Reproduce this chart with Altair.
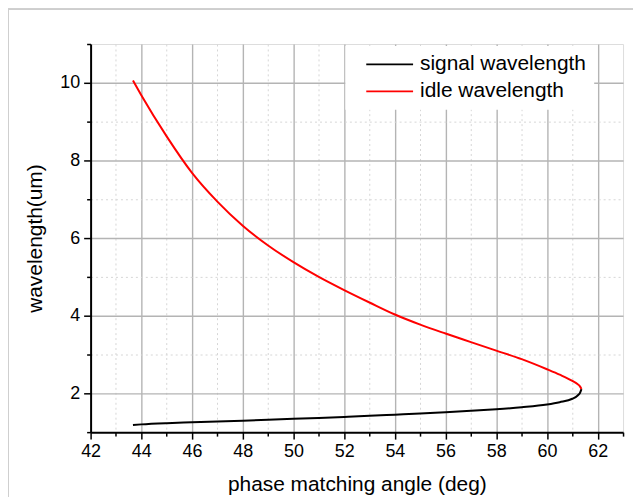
import altair as alt
import pandas as pd

# ---- data ----
idle_angle = [43.67, 44.0, 45.0, 46.0, 47.0, 48.0, 49.0, 50.0, 51.0, 52.0, 53.0,
              54.0, 55.0, 56.0, 57.0, 58.0, 59.0, 60.0, 60.5, 61.0, 61.2, 61.3, 61.36]
idle_wl = [10.06, 9.68, 8.62, 7.68, 6.94, 6.32, 5.81, 5.38, 5.00, 4.66, 4.34,
           4.03, 3.77, 3.54, 3.32, 3.10, 2.88, 2.62, 2.48, 2.32, 2.24, 2.18, 2.11]

signal_angle = [61.36, 61.3, 61.2, 61.0, 60.5, 60.0, 59.0, 58.0, 57.0, 56.0, 55.0, 54.0,
                53.0, 52.0, 51.0, 50.0, 49.0, 48.0, 47.0, 46.0, 45.0, 44.0, 43.67]
signal_wl = [2.11, 2.01, 1.94, 1.86, 1.77, 1.71, 1.64, 1.59, 1.55, 1.515, 1.48, 1.45,
             1.42, 1.393, 1.367, 1.342, 1.318, 1.295, 1.273, 1.252, 1.231, 1.20, 1.185]

series_names = ["signal wavelength", "idle wavelength"]
series_colors = ["#000000", "#ff0000"]

x_ticks = list(range(42, 64))
y_ticks = list(range(1, 12))

rows = []
for a, w in sorted(zip(signal_angle, signal_wl)):
    rows.append({"angle": a, "wl": w, "series": series_names[0]})
for a, w in sorted(zip(idle_angle, idle_wl)):
    rows.append({"angle": a, "wl": w, "series": series_names[1]})
df = pd.DataFrame(rows)

FONT = "Liberation Sans"

def axis_common(values):
    return dict(
        values=values,
        labelFont=FONT, labelFontSize=18, labelColor="#000000",
        titleFont=FONT, titleFontSize=21, titleFontWeight="normal", titleColor="#000000",
        domainColor="#000000", domainWidth=2,
        tickColor="#000000", tickWidth=1.5,
        tickSize={"condition": {"test": "datum.value % 2 == 1", "value": 4}, "value": 7},
        labelOverlap=False, labelFlush=False,
        grid=True,
        gridColor={"condition": {"test": "datum.value % 2 == 1", "value": "#d6d6d6"}, "value": "#b4b4b4"},
        gridDash={"condition": {"test": "datum.value % 2 == 1", "value": [2, 3]}, "value": []},
        gridWidth={"condition": {"test": "datum.value % 2 == 1", "value": 1}, "value": 1.4},
        labelExpr="datum.value % 2 == 0 ? datum.label : ''",
    )

xa = axis_common(x_ticks)
xa.update(gridOpacity={"condition": {"test": "datum.value == 63 || datum.value == 42", "value": 0}, "value": 1},
          title="phase matching angle (deg)", labelPadding=3, titlePadding=14)
ya = axis_common(y_ticks)
ya.update(gridOpacity={"condition": {"test": "datum.value == 11 || datum.value == 1", "value": 0}, "value": 1},
          title="wavelength(um)", labelPadding=4, titlePadding=14)

lines = alt.Chart(df).mark_line(strokeWidth=2, interpolate="monotone").encode(
    x=alt.X("angle:Q", scale=alt.Scale(domain=[42, 63], nice=False, zero=False), axis=alt.Axis(**xa)),
    y=alt.Y("wl:Q", scale=alt.Scale(domain=[1, 11], nice=False, zero=False), axis=alt.Axis(**ya)),
    color=alt.Color("series:N",
                    scale=alt.Scale(domain=series_names, range=series_colors),
                    sort=series_names,
                    legend=alt.Legend(
                        title=None, orient="none", legendX=256, legendY=2,
                        fillColor="#ffffff", padding=8,
                        symbolType="M-2.5,0L2.5,0", symbolSize=354, symbolStrokeWidth=1.8,
                        symbolOffset=26,
                        labelFont=FONT, labelFontSize=21, labelColor="#000000",
                        labelOffset=20, rowPadding=5, labelLimit=0,
                    )),
    detail="series:N",
)

border_top = alt.Chart(df).mark_rule(color="#d0d0d0", strokeWidth=1).encode(
    x=alt.value(-83), x2=alt.value(560), y=alt.value(-35))
border_left = alt.Chart(df).mark_rule(color="#d0d0d0", strokeWidth=1).encode(
    x=alt.value(-83), y=alt.value(-35), y2=alt.value(455))

chart = alt.layer(lines, border_top, border_left).properties(
    width=535, height=390,
    autosize=alt.AutoSizeParams(type="none"),
    padding={"left": 83, "top": 35, "right": 10, "bottom": 64},
).configure_view(stroke=None).configure(background="#ffffff")

chart.save("out.html", embed_options={"renderer": "svg", "actions": False})
